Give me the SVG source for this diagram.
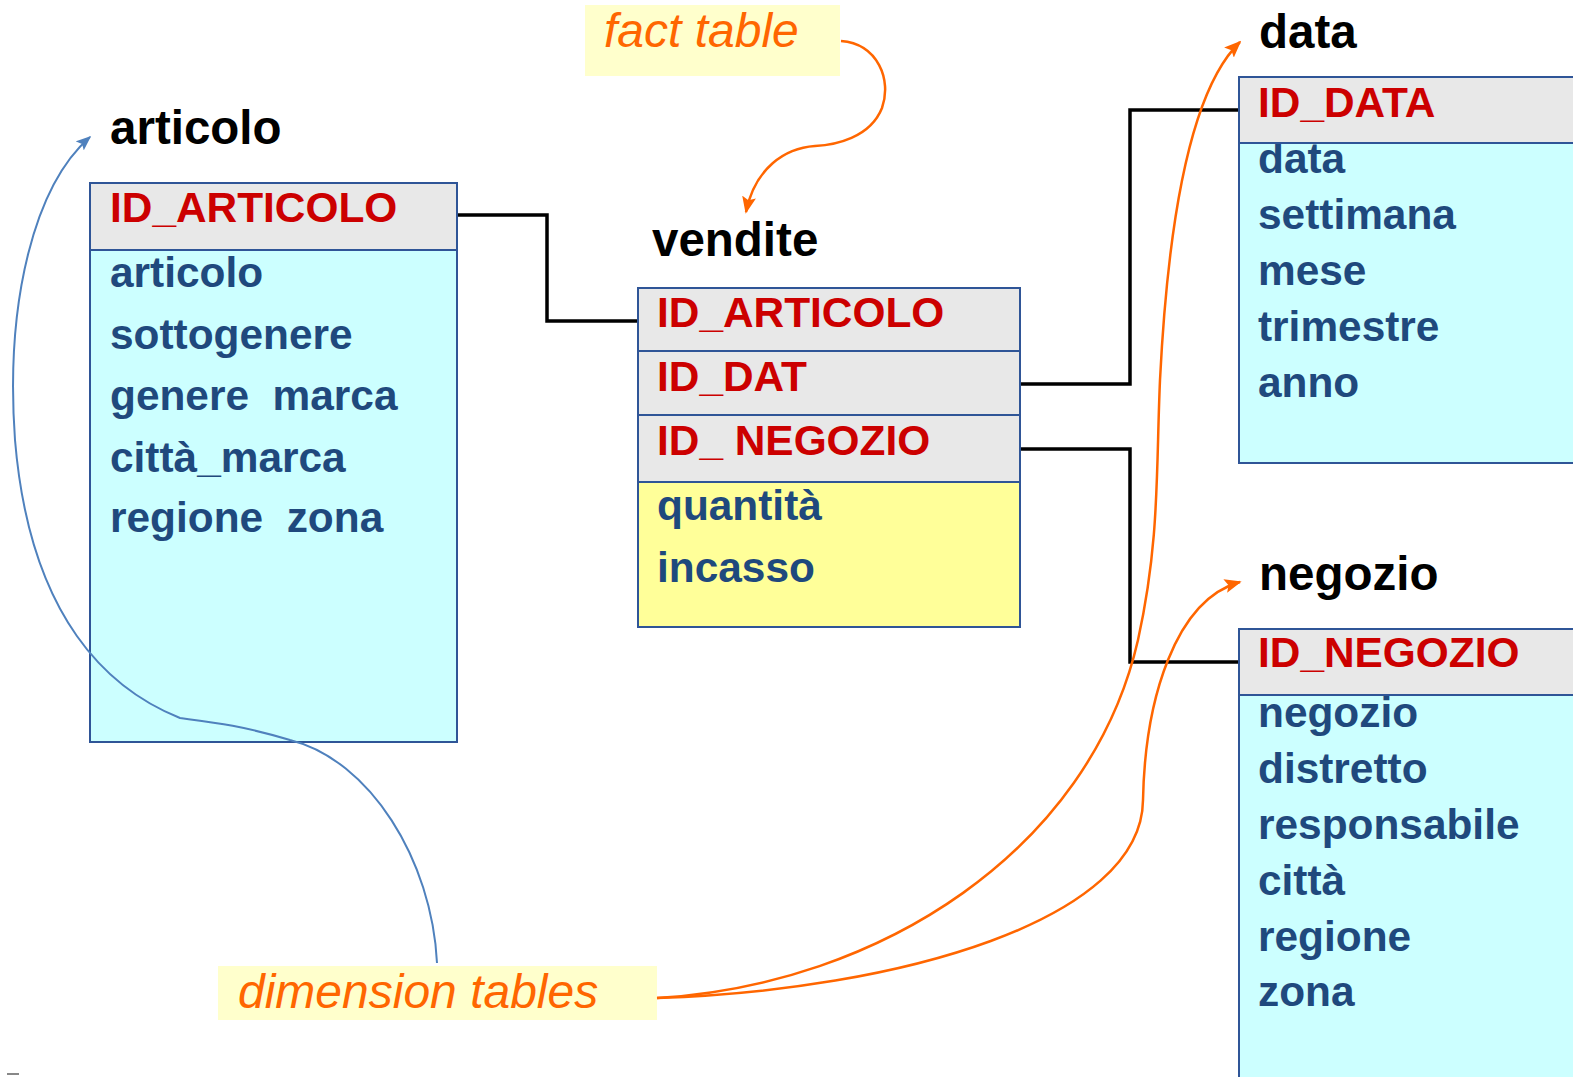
<svg xmlns="http://www.w3.org/2000/svg" width="1573" height="1077" viewBox="0 0 1573 1077">
<defs>
<marker id="ao" viewBox="0 0 10 10" refX="9" refY="5" markerWidth="17" markerHeight="14" markerUnits="userSpaceOnUse" orient="auto" preserveAspectRatio="none"><path d="M0,0 L10,5 L0,10 L2,5 z" fill="#FF6600"/></marker>
<marker id="ab" viewBox="0 0 10 10" refX="9" refY="5" markerWidth="15" markerHeight="12" markerUnits="userSpaceOnUse" orient="auto" preserveAspectRatio="none"><path d="M0,0 L10,5 L0,10 L2,5 z" fill="#4F81BD"/></marker>
<style>
.lbl{font-family:"Liberation Sans",Arial,sans-serif;font-weight:bold;font-size:47.5px;fill:#000}
.key{font-family:"Liberation Sans",Arial,sans-serif;font-weight:bold;font-size:42.4px;fill:#CC0000}
.fld{font-family:"Liberation Sans",Arial,sans-serif;font-weight:bold;font-size:42.4px;fill:#1F497D}
.note{font-family:"Liberation Sans",Arial,sans-serif;font-style:italic;font-size:48px;fill:#FF6600}
.hdr{fill:#E8E8E8;stroke:#2F5597;stroke-width:2}
.body{fill:#CCFFFF;stroke:#2F5597;stroke-width:2}
.fact{fill:#FFFF99;stroke:#2F5597;stroke-width:2}
.conn{fill:none;stroke:#000;stroke-width:3.5}
.oc{fill:none;stroke:#FF6600;stroke-width:2.5}
.bc{fill:none;stroke:#4F81BD;stroke-width:2}
</style>
</defs>
<rect width="1573" height="1077" fill="#fff"/>

<g id="connectors">
<polyline class="conn" points="457,215 547,215 547,321 638,321"/>
<polyline class="conn" points="1020,384 1130,384 1130,110 1240,110"/>
<polyline class="conn" points="1020,449 1130,449 1130,662 1240,662"/>
</g>

<g id="articolo">
<text class="lbl" x="110" y="144">articolo</text>
<rect class="body" x="90" y="183" width="367" height="559"/>
<rect class="hdr" x="90" y="183" width="367" height="67"/>
<text class="key" x="110" y="222">ID_ARTICOLO</text>
<text class="fld" x="110" y="287">articolo</text>
<text class="fld" x="110" y="349">sottogenere</text>
<text class="fld" x="110" y="410" xml:space="preserve">genere  marca</text>
<text class="fld" x="110" y="472">città_marca</text>
<text class="fld" x="110" y="532" xml:space="preserve">regione  zona</text>
</g>

<g id="vendite">
<text class="lbl" x="652" y="256">vendite</text>
<rect class="fact" x="638" y="288" width="382" height="339"/>
<rect class="hdr" x="638" y="288" width="382" height="63"/>
<rect class="hdr" x="638" y="351" width="382" height="64"/>
<rect class="hdr" x="638" y="415" width="382" height="67"/>
<text class="key" x="657" y="327">ID_ARTICOLO</text>
<text class="key" x="657" y="391">ID_DAT</text>
<text class="key" x="657" y="455" xml:space="preserve">ID_ NEGOZIO</text>
<text class="fld" x="657" y="520">quantità</text>
<text class="fld" x="657" y="582">incasso</text>
</g>

<g id="data">
<text class="lbl" x="1259" y="48">data</text>
<rect class="body" x="1239" y="77" width="340" height="386"/>
<text class="fld" x="1258" y="173">data</text>
<rect class="hdr" x="1239" y="77" width="340" height="66"/>
<text class="key" x="1258" y="117">ID_DATA</text>
<text class="fld" x="1258" y="229">settimana</text>
<text class="fld" x="1258" y="285">mese</text>
<text class="fld" x="1258" y="341">trimestre</text>
<text class="fld" x="1258" y="397">anno</text>
</g>

<g id="negozio">
<text class="lbl" x="1259" y="590">negozio</text>
<rect class="body" x="1239" y="629" width="340" height="460"/>
<rect class="hdr" x="1239" y="629" width="340" height="66"/>
<text class="key" x="1258" y="667">ID_NEGOZIO</text>
<text class="fld" x="1258" y="727">negozio</text>
<text class="fld" x="1258" y="783">distretto</text>
<text class="fld" x="1258" y="839">responsabile</text>
<text class="fld" x="1258" y="895">città</text>
<text class="fld" x="1258" y="951">regione</text>
<text class="fld" x="1258" y="1006">zona</text>
</g>

<g id="fact-note">
<rect x="585" y="5" width="255" height="71" fill="#FFFFCC"/>
<text class="note" x="604" y="47">fact table</text>
</g>

<g id="dimension-note">
<rect x="218" y="966" width="439" height="54" fill="#FFFFCC"/>
<text class="note" x="238" y="1008">dimension tables</text>
</g>

<g id="annotation-arrows">
<path class="oc" marker-end="url(#ao)" d="M841,41 C878,44 892,80 882,108 C870,138 835,145 815,146 C785,148 755,168 746,212"/>
<path class="oc" marker-end="url(#ao)" d="M657,998 C880,985 1090,850 1138,640 C1160,540 1156,470 1160,380 C1168,220 1190,90 1240,42"/>
<path class="oc" marker-end="url(#ao)" d="M657,998 C900,990 1142,920 1143,800 C1145,700 1175,600 1240,582"/>
<path class="bc" marker-end="url(#ab)" d="M437,963 C432,860 370,760 290,740 C240,725 210,722 180,718 C110,690 30,620 15,440 C5,300 35,185 90,137"/>
</g>
<rect x="7" y="1073" width="12" height="2" fill="#888"/>
</svg>
